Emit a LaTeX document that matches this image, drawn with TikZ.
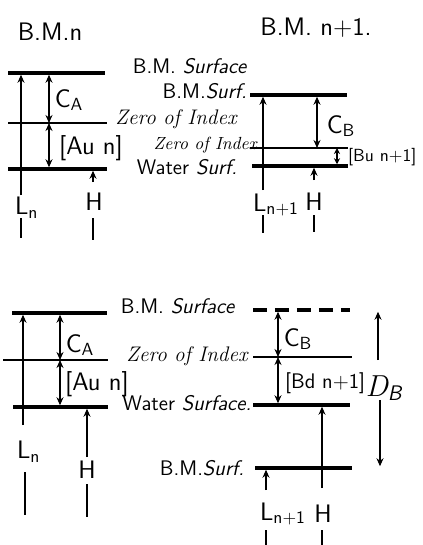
\documentclass[tikz,border=0pt]{standalone}
\usetikzlibrary{arrows.meta,positioning}
\begin{document}
\begin{tikzpicture}[
    x=0.02cm, y=-0.02cm,
    font=\large\sffamily,
    level/.style={line width=2.4pt},
    zeroline/.style={line width=0.6pt},
    arr/.style={-{Stealth[length=1.6mm,width=1.4mm]}, semithick, shorten >=1pt},
    darr/.style={{Stealth[length=1.6mm,width=1.4mm]}-{Stealth[length=1.6mm,width=1.4mm]}, semithick},
    tick/.style={semithick},
    lbl/.style={inner sep=1pt},
    big/.style={inner sep=1pt, font=\Large\sffamily},
    scr/.style={inner sep=1pt, font=\large\rmfamily\itshape},
  ]
  \useasboundingbox (0,0) rectangle (423,545);

  % headings
  \node[big] (bmn) at (50,32) {B.M.n};
  \node[big] (bmnn) at (316,28) {B.M. n+1.};

  % upper left: levels at B.M.n
  \draw[level] (8,73) coordinate (bmA) -- (105,73);
  \draw[zeroline] (8,123) coordinate (zA) -- (107,123);
  \draw[level] (8,169) coordinate (wA) -- (107,169);
  \coordinate (lnA) at (21,195);
  \coordinate (caA) at (49,73);
  \coordinate (hA) at (93,182);
  \draw[arr] (lnA) -- (lnA |- bmA);
  \draw[darr, shorten <=1pt] (caA) -- (caA |- zA);
  \draw[darr, shorten >=1pt] (caA |- zA) -- (caA |- wA);
  \draw[arr] (hA) -- (hA |- wA);
  \node[big] (cA) at (69,100) {C\textsubscript{A}};
  \node[big] (auA) at (91,148) {[Au n]};
  \node[big, anchor=west] (lA) at (13,208) {L\textsubscript{n}};
  \node[big] (hlA) at (94,202) {H};
  \draw[tick] (21,218) -- (21,238);
  \draw[tick] (93,218) -- (93,240);

  % upper middle texts
  \node[lbl] (sA) at (190,66) {B.M. \textit{Surface}};
  \node[lbl, anchor=east] (sB) at (249,91) {B.M.\textit{Surf.}};
  \node[scr] (zrA) at (176,119) {Zero of Index};
  \node[scr, font=\rmfamily\itshape, anchor=east] (zrB) at (259,145) {Zero of Index};
  \node[lbl] (wsA) at (187,167) {Water \textit{Surf.}};

  % upper right: levels at B.M. n+1
  \draw[level] (250,95) coordinate (bmB) -- (347,95);
  \draw[zeroline] (250,148) coordinate (zB) -- (348,148);
  \draw[level] (252,166) coordinate (wB) -- (348,166);
  \coordinate (lnB) at (263,190);
  \coordinate (cbB) at (317,95);
  \coordinate (buB) at (337,148);
  \coordinate (hB) at (314,180);
  \draw[arr] (lnB) -- (lnB |- bmB);
  \draw[darr, shorten <=1pt] (cbB) -- (cbB |- zB);
  \draw[{Stealth[length=1.2mm,width=1.2mm]}-{Stealth[length=1.2mm,width=1.2mm]}, semithick, shorten >=1pt] (buB) -- (buB |- wB);
  \draw[arr] (hB) -- (hB |- wB);
  \node[big] (cB) at (341,126) {C\textsubscript{B}};
  \node[lbl, font=\normalsize\sffamily, anchor=west] (buL) at (346,157) {[Bu n+1]};
  \node[big, anchor=west] (lB) at (251,205) {L\textsubscript{n+1}};
  \node[big] (hlB) at (314,202) {H};
  \draw[tick] (263,215) -- (263,233);
  \draw[tick] (314,215) -- (314,232);

  % lower left
  \draw[level] (12,313) coordinate (bmC) -- (107,313);
  \draw[zeroline] (3,360) coordinate (zC) -- (108,360);
  \draw[level] (13,407) coordinate (wC) -- (108,407);
  \coordinate (lnC) at (23,425);
  \coordinate (caC) at (60,313);
  \coordinate (hC) at (87,457);
  \draw[arr] (lnC) -- (lnC |- bmC);
  \draw[darr, shorten <=1pt] (caC) -- (caC |- zC);
  \draw[darr, shorten >=1pt] (caC |- zC) -- (caC |- wC);
  \draw[arr] (hC) -- (hC |- wC);
  \node[big] (cC) at (80,345) {C\textsubscript{A}};
  \node[big, anchor=west] (auC) at (63,384) {[Au n]};
  \node[big, anchor=west] (lC) at (15,452) {L\textsubscript{n}};
  \node[big] (hlC) at (87,470) {H};
  \draw[tick] (25,472) -- (25,515);
  \draw[tick] (87,484) -- (87,517);

  % lower middle texts
  \node[lbl] (sC) at (178,306) {B.M. \textit{Surface}};
  \node[scr] (zrC) at (187,356) {Zero of Index};
  \node[lbl] (wsC) at (187,403) {Water \textit{Surface.}};
  \node[lbl] (sD) at (202,468) {B.M.\textit{Surf.}};

  % lower right
  \draw[level, dash pattern=on 8pt off 4.5pt] (253,310) coordinate (bmD) -- (350,310);
  \draw[zeroline] (253,357) coordinate (zD) -- (352,357);
  \draw[level] (253,405) coordinate (wD) -- (350,405);
  \draw[level] (255,468) coordinate (bsD) -- (352,468);
  \coordinate (cbD) at (278,310);
  \coordinate (dbU) at (378,360);
  \coordinate (dbD) at (380,400);
  \coordinate (hD) at (322,488);
  \coordinate (lnD) at (266,490);
  \draw[darr, shorten <=1pt] (cbD) -- (cbD |- zD);
  \draw[darr, shorten >=1pt] (cbD |- zD) -- (cbD |- wD);
  \draw[arr] (dbU) -- (dbU |- bmD);
  \draw[arr] (dbD) -- (dbD |- bsD);
  \draw[arr] (hD) -- (hD |- wD);
  \draw[arr] (lnD) -- (lnD |- bsD);
  \node[big] (cD) at (298,339) {C\textsubscript{B}};
  \node[lbl, anchor=west] (bdD) at (283,383) {[Bd n+1]};
  \node[lbl, font=\LARGE\rmfamily\itshape] (dB) at (384,388) {D\textsubscript{\sffamily B}};
  \node[big, anchor=west] (lD) at (258,514) {L\textsubscript{n+1}};
  \node[big] (hlD) at (323,514) {H};
  \draw[tick] (266,530) -- (266,545);
  \draw[tick] (322,530) -- (322,545);
\end{tikzpicture}
\end{document}
